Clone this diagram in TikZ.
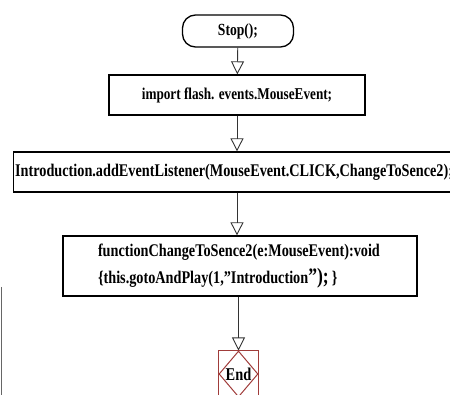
\documentclass[tikz,border=0pt]{standalone}
\usepackage{fontspec}
\setmainfont{Liberation Serif}[FakeStretch=0.8]
\usetikzlibrary{arrows.meta, shapes.geometric}

\definecolor{endred}{RGB}{160,60,58}

\begin{document}
\begin{tikzpicture}[x=1pt, y=-1pt, every node/.style={font=\bfseries\fontsize{17.8}{21}\selectfont},
    box/.style={draw, line width=1.3pt, rectangle, inner sep=2pt},
    flow/.style={-{Triangle[open, width=13pt, length=13pt]}, draw=black!80, line width=0.9pt}]

    \useasboundingbox (0,0) rectangle (450,395);
    \clip (0,0) rectangle (450,395);

    % Stop
    \node[box, rounded corners=13pt, minimum width=111pt, minimum height=32pt,
        font=\bfseries\fontsize{17}{19}\selectfont] (stop) at (238,31) {Stop();};

    % import
    \node[box, minimum width=256pt, minimum height=40pt,
        font=\bfseries\fontsize{16.5}{19}\selectfont] (import) at (237,95) {import flash. events.MouseEvent;};

    % listener
    \node[box, minimum height=40pt, inner xsep=1.5pt, text width=444pt, align=left, anchor=west] (listener) at (13,172)
        {Introduction.addEventListener(MouseEvent.CLICK,ChangeToSence2);};

    % function
    \node[box, minimum width=354pt, minimum height=60pt, text width=284pt, inner xsep=35pt, align=left] (func) at (240,266)
        {functionChangeToSence2(e:MouseEvent):void\\[6pt]
         \{this.gotoAndPlay(1,"Introduction{\fontsize{22}{22}\selectfont");}\,\}};

    % End
    \node[diamond, draw=endred, line width=1pt, inner sep=0pt, minimum width=39pt, minimum height=46pt,
        font=\bfseries\fontsize{18}{19}\selectfont] (end) at (238.5,374) {End};
    \draw[endred, line width=1pt] (end.west |- end.north) rectangle (end.east |- end.south);

    % arrows
    \draw[flow] (stop) -- (import);
    \draw[flow] (import) -- (import |- listener.north);
    \draw[flow] (import |- listener.south) -- (import |- func.north);
    \draw[flow] (func.south -| end.north) -- (end.north);

    % edge line
    \draw[black!60, line width=1pt] (1,287) -- (1,395);

\end{tikzpicture}
\end{document}
